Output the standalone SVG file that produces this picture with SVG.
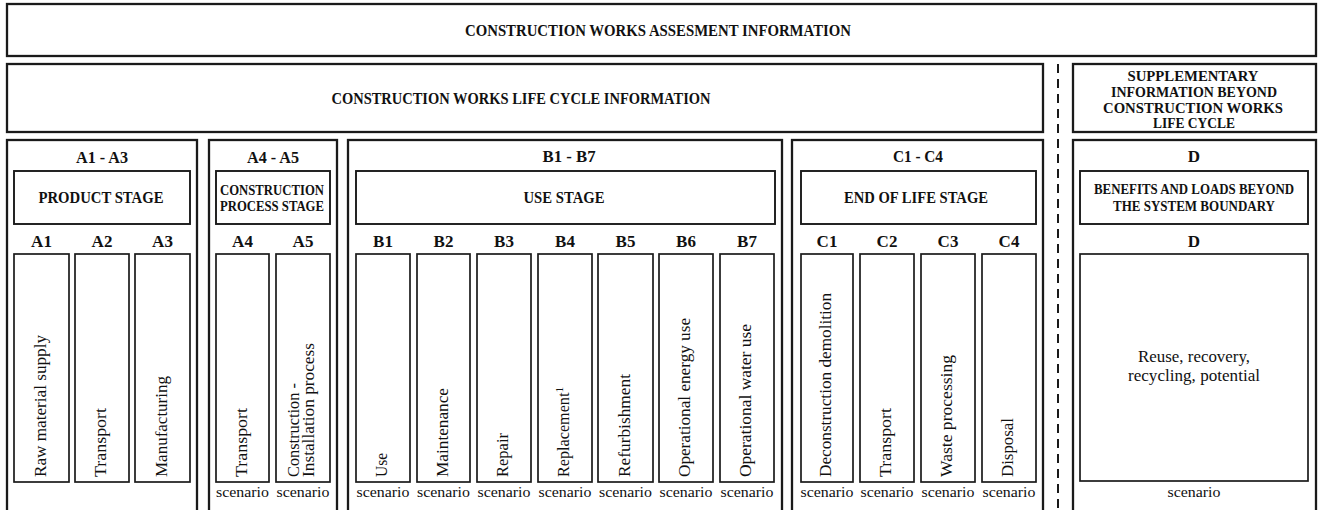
<svg xmlns="http://www.w3.org/2000/svg" width="1320" height="510" viewBox="0 0 1320 510">
<style>
.bx{fill:#fff;stroke:#1a1a1a;stroke-width:2.3}
.ib{fill:none;stroke:#1a1a1a;stroke-width:1.9}
.col{fill:none;stroke:#1a1a1a;stroke-width:1.7}
.h{font-family:"Liberation Serif","Times New Roman",serif;font-weight:bold;font-size:17px;fill:#111;text-anchor:middle}
.h2{font-family:"Liberation Serif","Times New Roman",serif;font-weight:bold;font-size:15px;fill:#111;text-anchor:middle}
.v{font-family:"Liberation Serif","Times New Roman",serif;font-size:16px;fill:#111}
.s{font-family:"Liberation Serif","Times New Roman",serif;font-size:15px;fill:#111;text-anchor:middle}
.r{font-family:"Liberation Serif","Times New Roman",serif;font-size:16.5px;fill:#111;text-anchor:middle}
.dash{stroke:#1a1a1a;stroke-width:2;stroke-dasharray:9 6;fill:none}
</style>
<rect width="1320" height="510" fill="#fff"/>

<g id="assessment">
<rect class="bx" x="7" y="4" width="1309" height="52"/>
<text class="h" x="658" y="36" textLength="386" lengthAdjust="spacingAndGlyphs">CONSTRUCTION WORKS ASSESMENT INFORMATION</text>
</g>

<g id="lifecycle">
<rect class="bx" x="7" y="64" width="1036" height="68"/>
<text class="h" x="521" y="104" textLength="379" lengthAdjust="spacingAndGlyphs">CONSTRUCTION WORKS LIFE CYCLE INFORMATION</text>
</g>

<g id="supplementary">
<rect class="bx" x="1073" y="64" width="243" height="68"/>
<text class="h2" x="1193" y="81" textLength="131" lengthAdjust="spacingAndGlyphs">SUPPLEMENTARY</text>
<text class="h2" x="1194" y="97" textLength="166" lengthAdjust="spacingAndGlyphs">INFORMATION BEYOND</text>
<text class="h2" x="1193" y="113" textLength="180" lengthAdjust="spacingAndGlyphs">CONSTRUCTION WORKS</text>
<text class="h2" x="1194" y="128" textLength="82" lengthAdjust="spacingAndGlyphs">LIFE CYCLE</text>
</g>

<g id="separator">
<line class="dash" x1="1058" y1="64" x2="1058" y2="512"/>
</g>

<g id="product-stage">
<rect class="bx" x="7" y="140" width="190" height="380"/>
<text class="h" x="102" y="163" textLength="52" lengthAdjust="spacingAndGlyphs">A1 - A3</text>
<rect class="ib" x="14" y="171" width="176" height="53"/>
<text class="h" x="101" y="203" textLength="125" lengthAdjust="spacingAndGlyphs">PRODUCT STAGE</text>
<text class="h" x="41.5" y="247">A1</text>
<text class="h" x="102" y="247">A2</text>
<text class="h" x="162.5" y="247">A3</text>
<rect class="col" x="14" y="254" width="55" height="228"/>
<rect class="col" x="75" y="254" width="54" height="228"/>
<rect class="col" x="135" y="254" width="55" height="228"/>
<text class="v" transform="translate(45.5,477) rotate(-90)" textLength="142" lengthAdjust="spacingAndGlyphs">Raw material supply</text>
<text class="v" transform="translate(106,477) rotate(-90)" textLength="69" lengthAdjust="spacingAndGlyphs">Transport</text>
<text class="v" transform="translate(166.5,477) rotate(-90)" textLength="101" lengthAdjust="spacingAndGlyphs">Manufacturing</text>
</g>

<g id="construction-stage">
<rect class="bx" x="209" y="140" width="128" height="380"/>
<text class="h" x="273" y="163" textLength="52" lengthAdjust="spacingAndGlyphs">A4 - A5</text>
<rect class="ib" x="216" y="171" width="114" height="53"/>
<text class="h2" x="272" y="195" textLength="104" lengthAdjust="spacingAndGlyphs">CONSTRUCTION</text>
<text class="h2" x="272" y="211" textLength="104" lengthAdjust="spacingAndGlyphs">PROCESS STAGE</text>
<text class="h" x="242.5" y="247">A4</text>
<text class="h" x="303" y="247">A5</text>
<rect class="col" x="216" y="254" width="53" height="228"/>
<rect class="col" x="276" y="254" width="54" height="228"/>
<text class="v" transform="translate(246.5,477) rotate(-90)" textLength="69" lengthAdjust="spacingAndGlyphs">Transport</text>
<text class="v" transform="translate(299,477) rotate(-90)" textLength="94" lengthAdjust="spacingAndGlyphs">Construction -</text>
<text class="v" transform="translate(314,477) rotate(-90)" textLength="134" lengthAdjust="spacingAndGlyphs">Installation process</text>
<text class="s" x="242.5" y="497" textLength="53" lengthAdjust="spacingAndGlyphs">scenario</text>
<text class="s" x="303" y="497" textLength="53" lengthAdjust="spacingAndGlyphs">scenario</text>
</g>

<g id="use-stage">
<rect class="bx" x="348" y="140" width="434" height="380"/>
<text class="h" x="569" y="162" textLength="53" lengthAdjust="spacingAndGlyphs">B1 - B7</text>
<rect class="ib" x="356" y="171" width="419" height="53"/>
<text class="h" x="564" y="203" textLength="81" lengthAdjust="spacingAndGlyphs">USE STAGE</text>
<text class="h" x="383" y="247">B1</text>
<text class="h" x="443.5" y="247">B2</text>
<text class="h" x="504" y="247">B3</text>
<text class="h" x="565" y="247">B4</text>
<text class="h" x="625.5" y="247">B5</text>
<text class="h" x="686" y="247">B6</text>
<text class="h" x="747" y="247">B7</text>
<rect class="col" x="356" y="254" width="54" height="228"/>
<rect class="col" x="417" y="254" width="53" height="228"/>
<rect class="col" x="477" y="254" width="54" height="228"/>
<rect class="col" x="538" y="254" width="54" height="228"/>
<rect class="col" x="598" y="254" width="55" height="228"/>
<rect class="col" x="659" y="254" width="54" height="228"/>
<rect class="col" x="720" y="254" width="54" height="228"/>
<text class="v" transform="translate(387,477) rotate(-90)" textLength="24" lengthAdjust="spacingAndGlyphs">Use</text>
<text class="v" transform="translate(447.5,477) rotate(-90)" textLength="89" lengthAdjust="spacingAndGlyphs">Maintenance</text>
<text class="v" transform="translate(508,477) rotate(-90)" textLength="44" lengthAdjust="spacingAndGlyphs">Repair</text>
<text class="v" transform="translate(569,477) rotate(-90)" textLength="90" lengthAdjust="spacingAndGlyphs">Replacement<tspan font-size="11" baseline-shift="super">1</tspan></text>
<text class="v" transform="translate(629.5,477) rotate(-90)" textLength="103" lengthAdjust="spacingAndGlyphs">Refurbishment</text>
<text class="v" transform="translate(690,477) rotate(-90)" textLength="159" lengthAdjust="spacingAndGlyphs">Operational energy use</text>
<text class="v" transform="translate(751,477) rotate(-90)" textLength="153" lengthAdjust="spacingAndGlyphs">Operational water use</text>
<text class="s" x="383" y="497" textLength="53" lengthAdjust="spacingAndGlyphs">scenario</text>
<text class="s" x="443.5" y="497" textLength="53" lengthAdjust="spacingAndGlyphs">scenario</text>
<text class="s" x="504" y="497" textLength="53" lengthAdjust="spacingAndGlyphs">scenario</text>
<text class="s" x="565" y="497" textLength="53" lengthAdjust="spacingAndGlyphs">scenario</text>
<text class="s" x="625.5" y="497" textLength="53" lengthAdjust="spacingAndGlyphs">scenario</text>
<text class="s" x="686" y="497" textLength="53" lengthAdjust="spacingAndGlyphs">scenario</text>
<text class="s" x="747" y="497" textLength="53" lengthAdjust="spacingAndGlyphs">scenario</text>
</g>

<g id="end-of-life-stage">
<rect class="bx" x="792" y="140" width="251" height="380"/>
<text class="h" x="918" y="162" textLength="50" lengthAdjust="spacingAndGlyphs">C1 - C4</text>
<rect class="ib" x="801" y="171" width="235" height="53"/>
<text class="h" x="916" y="203" textLength="144" lengthAdjust="spacingAndGlyphs">END OF LIFE STAGE</text>
<text class="h" x="827" y="247">C1</text>
<text class="h" x="887" y="247">C2</text>
<text class="h" x="948" y="247">C3</text>
<text class="h" x="1009" y="247">C4</text>
<rect class="col" x="801" y="254" width="52" height="228"/>
<rect class="col" x="860" y="254" width="54" height="228"/>
<rect class="col" x="921" y="254" width="54" height="228"/>
<rect class="col" x="982" y="254" width="54" height="228"/>
<text class="v" transform="translate(831,477) rotate(-90)" textLength="184" lengthAdjust="spacingAndGlyphs">Deconstruction demolition</text>
<text class="v" transform="translate(891,477) rotate(-90)" textLength="69" lengthAdjust="spacingAndGlyphs">Transport</text>
<text class="v" transform="translate(952,477) rotate(-90)" textLength="122" lengthAdjust="spacingAndGlyphs">Waste processing</text>
<text class="v" transform="translate(1013,477) rotate(-90)" textLength="59" lengthAdjust="spacingAndGlyphs">Disposal</text>
<text class="s" x="827" y="497" textLength="53" lengthAdjust="spacingAndGlyphs">scenario</text>
<text class="s" x="887" y="497" textLength="53" lengthAdjust="spacingAndGlyphs">scenario</text>
<text class="s" x="948" y="497" textLength="53" lengthAdjust="spacingAndGlyphs">scenario</text>
<text class="s" x="1009" y="497" textLength="53" lengthAdjust="spacingAndGlyphs">scenario</text>
</g>

<g id="beyond-boundary">
<rect class="bx" x="1073" y="140" width="243" height="380"/>
<text class="h" x="1194" y="162">D</text>
<rect class="ib" x="1080" y="171" width="228" height="53"/>
<text class="h2" x="1194" y="194" textLength="200" lengthAdjust="spacingAndGlyphs">BENEFITS AND LOADS BEYOND</text>
<text class="h2" x="1194" y="211" textLength="162" lengthAdjust="spacingAndGlyphs">THE SYSTEM BOUNDARY</text>
<text class="h" x="1194" y="247">D</text>
<rect class="col" x="1080" y="254" width="228" height="227"/>
<text class="r" x="1194" y="362" textLength="112" lengthAdjust="spacingAndGlyphs">Reuse, recovery,</text>
<text class="r" x="1194" y="381" textLength="132" lengthAdjust="spacingAndGlyphs">recycling, potential</text>
<text class="s" x="1194" y="497" textLength="53" lengthAdjust="spacingAndGlyphs">scenario</text>
</g>
</svg>
